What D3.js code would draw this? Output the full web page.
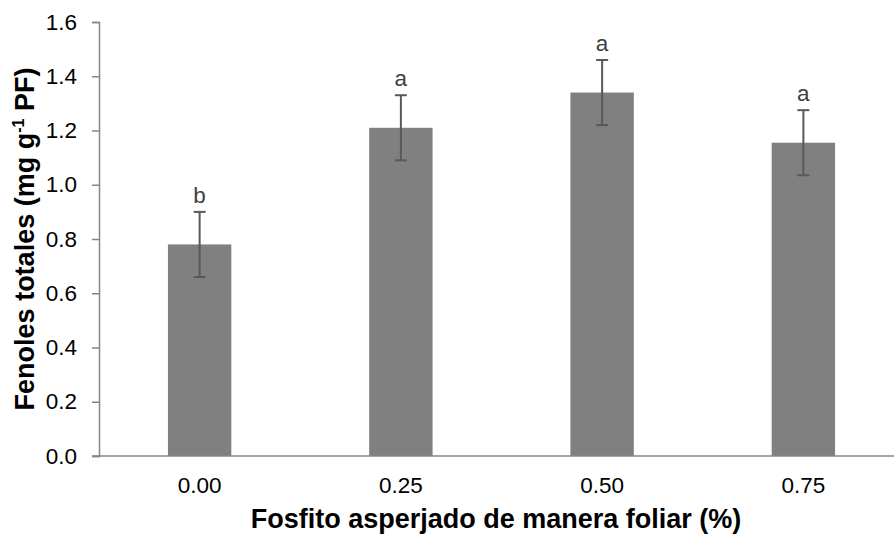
<!DOCTYPE html>
<html>
<head>
<meta charset="utf-8">
<script src="https://cdn.jsdelivr.net/npm/d3@7"></script>
<style>
  html, body { margin: 0; padding: 0; background: #fff; }
  svg { display: block; font-family: "Liberation Sans", Arial, sans-serif; }
</style>
</head>
<body>
<svg id="chart" width="894" height="535"></svg>
<script>
// Foliar phosphite dose (%) and total phenols (mg g-1 FW)
const categories = ["0.00", "0.25", "0.50", "0.75"];
const means = [0.78, 1.21, 1.34, 1.155];
const errors = [0.12, 0.12, 0.12, 0.12];
const letters = ["b", "a", "a", "a"];
const yTicks = [0, 0.2, 0.4, 0.6, 0.8, 1.0, 1.2, 1.4, 1.6];

const svg = d3.select("#chart");
const margin = { left: 99, top: 22, bottom: 79 };
const H = 535;
const plotBottom = H - margin.bottom;
const tickFont = 22.5;

const x = d3.scaleBand()
  .domain(categories)
  .range([margin.left, margin.left + 805])
  .paddingInner(0.685)
  .paddingOuter(0.3425);

const y = d3.scaleLinear().domain([0, 1.6]).range([plotBottom, margin.top]);

const axisColor = "#868686";

// Y axis
const yAxis = svg.append("g")
  .attr("transform", `translate(${margin.left},0)`)
  .call(d3.axisLeft(y).tickValues(yTicks).tickFormat(d3.format(".1f")).tickSizeOuter(0).tickSize(7).tickPadding(15));
yAxis.select(".domain").attr("stroke", axisColor).attr("stroke-width", 1.5);
yAxis.selectAll(".tick line").attr("stroke", axisColor).attr("stroke-width", 1.5);
yAxis.selectAll(".tick text").attr("font-size", tickFont).attr("fill", "#000")
  .attr("font-family", "'Liberation Sans', Arial, sans-serif");

// Bars
svg.append("g").selectAll("rect")
  .data(categories)
  .join("rect")
  .attr("x", d => x(d))
  .attr("width", x.bandwidth())
  .attr("y", (d, i) => y(means[i]))
  .attr("height", (d, i) => y(0) - y(means[i]))
  .attr("fill", "#808080");

// X axis (baseline only, no ticks)
const xAxis = svg.append("g")
  .attr("transform", `translate(0,${plotBottom})`)
  .call(d3.axisBottom(x).tickSize(0).tickSizeOuter(0).tickPadding(21.5));
xAxis.select(".domain").attr("stroke", axisColor).attr("stroke-width", 1.5)
  .attr("d", `M${margin.left - 7},0H${margin.left + 805}`);
xAxis.selectAll(".tick text").attr("font-size", tickFont).attr("fill", "#000")
  .attr("font-family", "'Liberation Sans', Arial, sans-serif");

// Error bars
const cap = 6;
const eb = svg.append("g").attr("stroke", "#595959").attr("stroke-width", 2);
categories.forEach((c, i) => {
  const cx = x(c) + x.bandwidth() / 2;
  const yHi = y(means[i] + errors[i]);
  const yLo = y(means[i] - errors[i]);
  eb.append("line").attr("x1", cx).attr("x2", cx).attr("y1", yHi).attr("y2", yLo);
  eb.append("line").attr("x1", cx - cap).attr("x2", cx + cap).attr("y1", yHi).attr("y2", yHi);
  eb.append("line").attr("x1", cx - cap).attr("x2", cx + cap).attr("y1", yLo).attr("y2", yLo);
});

// Significance letters
svg.append("g").selectAll("text")
  .data(categories)
  .join("text")
  .attr("x", d => x(d) + x.bandwidth() / 2)
  .attr("y", (d, i) => y(means[i] + errors[i]) - 9)
  .attr("text-anchor", "middle")
  .attr("font-size", tickFont)
  .attr("fill", "#404040")
  .text((d, i) => letters[i]);

// Axis titles
svg.append("text")
  .attr("x", 496)
  .attr("y", 528)
  .attr("text-anchor", "middle")
  .attr("font-size", 27)
  .attr("font-weight", "bold")
  .text("Fosfito asperjado de manera foliar (%)");

const yt = svg.append("text")
  .attr("transform", `translate(34,${(margin.top + plotBottom) / 2}) rotate(-90)`)
  .attr("text-anchor", "middle")
  .attr("font-size", 27)
  .attr("font-weight", "bold");
yt.append("tspan").text("Fenoles totales (mg g");
yt.append("tspan").attr("dy", -10).attr("font-size", 16).text("-1");
yt.append("tspan").attr("dy", 10).text(" PF)");
</script>
</body>
</html>
